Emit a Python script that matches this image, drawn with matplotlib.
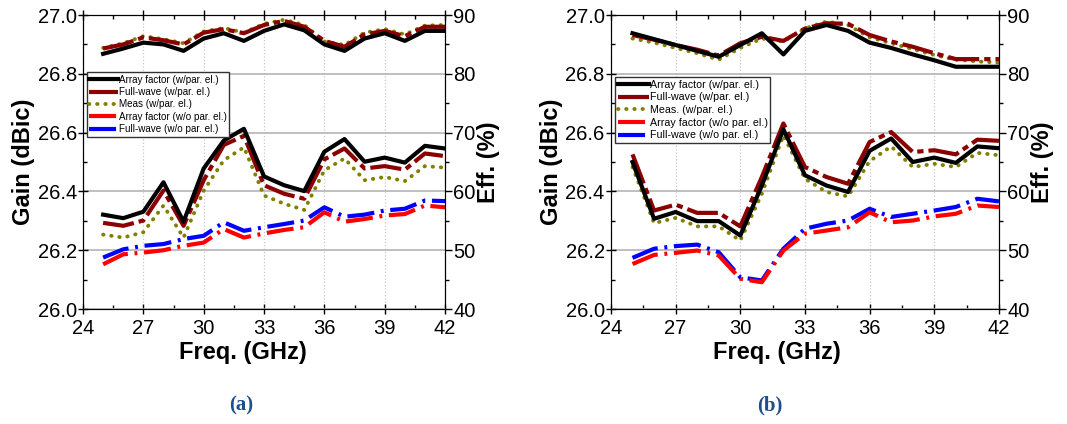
import matplotlib
matplotlib.use('Agg')
import matplotlib.pyplot as plt
from matplotlib.ticker import MultipleLocator

plt.rcParams['font.family'] = ['Liberation Sans', 'DejaVu Sans']

freq = [25, 26, 27, 28, 29, 30, 31, 32, 33, 34, 35, 36, 37, 38, 39, 40, 41, 42]

# (a) efficiency, right axis (%)
a_eff_af = [83.4, 84.3, 85.3, 85.0, 83.9, 86.0, 86.9, 85.6, 87.3, 88.4, 87.4, 85.0, 83.9, 86.0, 86.9, 85.6, 87.3, 87.3]
a_eff_fw = [84.3, 85.0, 86.2, 85.7, 85.0, 87.0, 87.6, 86.9, 88.3, 89.0, 88.0, 85.6, 84.6, 86.7, 87.3, 86.4, 88.0, 88.0]
a_eff_meas = [84.4, 85.2, 86.4, 85.9, 85.2, 87.2, 87.8, 87.0, 88.5, 89.2, 88.3, 85.5, 84.9, 87.0, 87.6, 86.7, 88.2, 88.3]
# (a) gain, left axis (dBic)
a_gain_af = [26.321, 26.309, 26.331, 26.431, 26.297, 26.478, 26.573, 26.613, 26.451, 26.421, 26.401, 26.535, 26.578, 26.501, 26.515, 26.498, 26.555, 26.546]
a_gain_fw = [26.293, 26.283, 26.301, 26.403, 26.283, 26.438, 26.558, 26.589, 26.421, 26.392, 26.375, 26.509, 26.546, 26.478, 26.486, 26.474, 26.529, 26.520]
a_gain_meas = [26.253, 26.243, 26.261, 26.352, 26.243, 26.403, 26.506, 26.550, 26.386, 26.358, 26.337, 26.472, 26.512, 26.438, 26.449, 26.435, 26.486, 26.481]
a_gain_af_wo = [26.152, 26.186, 26.192, 26.200, 26.215, 26.226, 26.272, 26.243, 26.257, 26.269, 26.278, 26.329, 26.297, 26.306, 26.318, 26.323, 26.352, 26.346]
a_gain_fw_wo = [26.175, 26.203, 26.215, 26.221, 26.238, 26.249, 26.295, 26.266, 26.278, 26.289, 26.301, 26.346, 26.314, 26.321, 26.335, 26.341, 26.369, 26.367]

# (b) efficiency, right axis (%)
b_eff_af = [86.9, 85.9, 84.9, 83.9, 82.9, 84.9, 86.9, 83.3, 87.3, 88.3, 87.3, 85.3, 84.4, 83.3, 82.3, 81.2, 81.2, 81.2]
b_eff_fw = [86.6, 85.8, 84.9, 84.1, 83.1, 85.2, 86.3, 85.6, 87.7, 88.6, 88.5, 86.6, 85.5, 84.6, 83.5, 82.5, 82.5, 82.5]
b_eff_meas = [86.0, 85.3, 84.4, 83.5, 82.4, 84.4, 86.0, 85.5, 87.7, 88.9, 88.3, 86.2, 85.2, 84.2, 83.2, 82.4, 82.1, 81.9]
# (b) gain, left axis (dBic)
b_gain_af = [26.500, 26.307, 26.330, 26.299, 26.299, 26.250, 26.420, 26.611, 26.455, 26.420, 26.398, 26.538, 26.580, 26.500, 26.515, 26.497, 26.553, 26.547]
b_gain_fw = [26.526, 26.335, 26.355, 26.327, 26.327, 26.281, 26.449, 26.631, 26.483, 26.449, 26.426, 26.568, 26.602, 26.534, 26.540, 26.526, 26.576, 26.572]
b_gain_meas = [26.483, 26.292, 26.310, 26.281, 26.281, 26.233, 26.392, 26.591, 26.443, 26.398, 26.383, 26.503, 26.553, 26.483, 26.494, 26.483, 26.531, 26.523]
b_gain_af_wo = [26.153, 26.184, 26.191, 26.199, 26.182, 26.103, 26.091, 26.199, 26.256, 26.267, 26.278, 26.329, 26.295, 26.301, 26.315, 26.324, 26.352, 26.347]
b_gain_fw_wo = [26.174, 26.205, 26.214, 26.219, 26.193, 26.108, 26.097, 26.205, 26.273, 26.290, 26.301, 26.341, 26.313, 26.324, 26.335, 26.347, 26.375, 26.366]

labels_a = ['Array factor (w/par. el.)', 'Full-wave (w/par. el.)', 'Meas (w/par. el.)',
            'Array factor (w/o par. el.)', 'Full-wave (w/o par. el.)']
labels_b = ['Array factor (w/par. el.)', 'Full-wave (w/par. el.)', 'Meas. (w/par. el.)',
            'Array factor (w/o par. el.)', 'Full-wave (w/o par. el.)']

# line styles: af, fw, meas, af w/o, fw w/o
styles = [
    dict(color='black', lw=3, ls='-'),
    dict(color='#8B0000', lw=3, ls=(0, (7.5, 1.2, 1.5, 1.2))),
    dict(color='#808000', lw=2.8, ls=(0, (0.1, 2)), dash_capstyle='round'),
    dict(color='#FF0000', lw=3, ls=(0, (6.5, 1.6, 0.7, 1.6))),
    dict(color='#0000FF', lw=3, ls=(0, (6.5, 1.6, 0.7, 1.6))),
]


def panel(rect, eff, gain, labels, leg_pos, leg_size, xlab_x):
    ax = fig.add_axes(rect)
    ax2 = ax.twinx()
    handles = []
    for k in [4, 3, 2, 1, 0]:
        h, = ax.plot(freq, gain[k], **styles[k])
        handles.append(h)
    handles = handles[::-1]
    for k in [2, 1, 0]:
        ax2.plot(freq, eff[k], **styles[k])

    ax.set_xlim(24, 42)
    ax.set_ylim(26.0, 27.0)
    ax2.set_ylim(40, 90)
    ax.xaxis.set_major_locator(MultipleLocator(3))
    ax.xaxis.set_minor_locator(MultipleLocator(1.5))
    ax.yaxis.set_major_locator(MultipleLocator(0.2))
    ax.yaxis.set_minor_locator(MultipleLocator(0.1))
    ax2.yaxis.set_major_locator(MultipleLocator(10))
    ax2.yaxis.set_minor_locator(MultipleLocator(5))
    ax.yaxis.set_major_formatter('{x:.1f}')

    ax.set_axisbelow(True)
    ax.grid(axis='y', which='major', color='#b4b4b4', lw=1.2, ls='-')
    ax.grid(axis='x', which='major', color='#c8c8c8', lw=0.9, ls=':')

    ax.tick_params(axis='both', which='major', direction='inout', length=7, width=1,
                   labelsize=14.5, top=True)
    ax.tick_params(axis='both', which='minor', direction='in', length=3, width=1, top=True)
    ax.tick_params(axis='y', which='major', pad=1)
    ax2.tick_params(axis='y', which='major', direction='out', length=5, width=1,
                    labelsize=14.5, pad=1)
    ax2.tick_params(axis='y', which='minor', direction='out', length=3, width=1)
    ax.spines['bottom'].set_color('#555555')

    ax.set_xlabel('Freq. (GHz)', fontsize=17, fontweight='bold')
    ax.xaxis.set_label_coords(xlab_x, -0.11)
    ax.xaxis.label.set_va('top')
    ax.set_ylabel('Gain (dBic)', fontsize=17, fontweight='bold', labelpad=2)
    ax2.set_ylabel('Eff. (%)', fontsize=17, fontweight='bold', labelpad=1)

    leg = ax.legend(handles, labels, loc='upper left', bbox_to_anchor=leg_pos,
                    borderaxespad=0, fontsize=leg_size, handlelength=2.9,
                    handletextpad=0.1, labelspacing=0.25, borderpad=0.25,
                    fancybox=False, framealpha=1, edgecolor='#333333')
    leg.get_frame().set_linewidth(1)
    return ax


fig = plt.figure(figsize=(10.67, 4.24), dpi=100)

panel([0.0778, 0.2712, 0.3393, 0.6934], [a_eff_af, a_eff_fw, a_eff_meas],
      [a_gain_af, a_gain_fw, a_gain_meas, a_gain_af_wo, a_gain_fw_wo],
      labels_a, (0.011, 0.806), 7.1, 0.442)
panel([0.5726, 0.2712, 0.3636, 0.6934], [b_eff_af, b_eff_fw, b_eff_meas],
      [b_gain_af, b_gain_fw, b_gain_meas, b_gain_af_wo, b_gain_fw_wo],
      labels_b, (0.010, 0.789), 7.7, 0.428)

fig.text(241 / 1067, 1 - 405 / 424, '(a)', ha='center', va='center', fontsize=15,
         fontweight='bold', color='#1F4E8C', family='Liberation Serif')
fig.text(770 / 1067, 1 - 405 / 424, '(b)', ha='center', va='center', fontsize=15,
         fontweight='bold', color='#1F4E8C', family='Liberation Serif')

fig.savefig('out.png', dpi=100)
